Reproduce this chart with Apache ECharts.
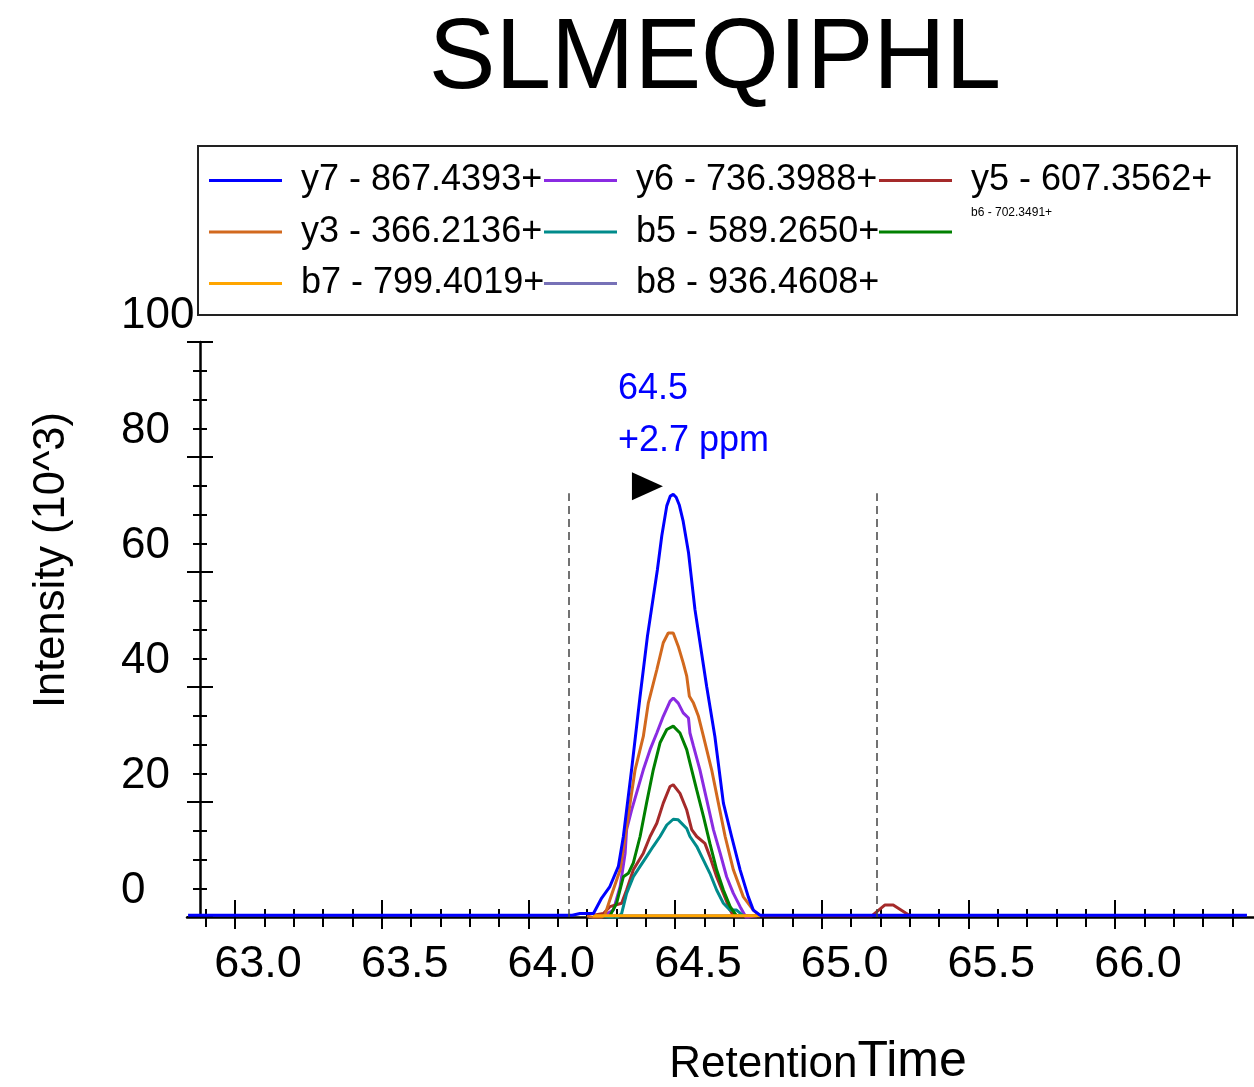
<!DOCTYPE html>
<html><head><meta charset="utf-8">
<script src="https://cdn.jsdelivr.net/npm/echarts@6/dist/echarts.min.js"></script>
<style>html,body{margin:0;padding:0;background:#fff}#c{width:1254px;height:1087px}</style>
</head><body><div id="c"></div>
<script>
// ---- data (retention time in minutes, intensity in 10^3) ----
const chartTitle = 'SLMEQIPHL';
const seriesNames = ['y7 - 867.4393+', 'y6 - 736.3988+', 'y5 - 607.3562+', 'y3 - 366.2136+',
                     'b5 - 589.2650+', 'b6 - 702.3491+', 'b7 - 799.4019+', 'b8 - 936.4608+'];
const seriesColors = ['#0000ff', '#8a2be2', '#a52a2a', '#d2691e', '#008b8b', '#008000', '#ffa500', '#7771b7'];

const y7 = [[62.84,0.3],[64.15,0.3],[64.176,0.6],[64.222,0.6],[64.250,3.3],[64.278,5.3],[64.307,8.8],[64.324,14.0],
  [64.352,25.6],[64.381,38.4],[64.406,48.8],[64.440,60.4],[64.455,66.3],[64.472,71.5],[64.484,73.2],[64.494,73.5],
  [64.504,73.0],[64.515,71.6],[64.528,68.8],[64.546,63.4],[64.568,53.5],[64.608,40.1],[64.636,31.4],[64.665,19.8],
  [64.693,14.0],[64.722,8.2],[64.750,3.5],[64.767,1.2],[64.790,0.3],[66.45,0.3]];
const y6 = [[64.256,0.2],[64.290,1.2],[64.313,5.3],[64.330,11.1],[64.335,15.2],[64.352,18.6],[64.392,25.6],[64.415,29.1],
  [64.438,32.0],[64.460,34.9],[64.483,37.5],[64.494,38.1],[64.511,37.2],[64.528,35.5],[64.546,34.6],[64.551,32.0],
  [64.563,29.7],[64.585,25.6],[64.608,20.4],[64.631,15.2],[64.654,11.1],[64.676,7.0],[64.699,4.1],[64.722,1.8],
  [64.744,-0.2],[64.761,0.1],[64.78,0.2]];
const y5 = [[64.222,0.3],[64.256,0.6],[64.278,1.8],[64.318,2.4],[64.335,4.7],[64.358,8.2],[64.392,11.1],[64.415,14.0],
  [64.438,16.3],[64.460,19.8],[64.483,22.7],[64.494,23.0],[64.517,21.5],[64.540,18.6],[64.557,15.2],[64.574,14.0],
  [64.602,12.8],[64.619,10.5],[64.642,7.0],[64.665,4.1],[64.688,1.2],[64.699,0.2],
  [65.171,0.2],[65.216,2.1],[65.244,2.1],[65.301,0.2]];
const y3 = [[64.20,0.2],[64.239,-0.3],[64.26,0.2],[64.278,3.0],[64.313,8.2],[64.347,19.8],[64.364,25.6],[64.392,31.4],
  [64.409,37.2],[64.438,43.0],[64.460,47.7],[64.477,49.4],[64.494,49.4],[64.511,47.1],[64.528,44.2],[64.540,41.9],
  [64.549,38.4],[64.563,37.2],[64.580,34.9],[64.597,31.4],[64.625,25.6],[64.648,19.8],[64.671,14.0],[64.699,8.2],
  [64.733,3.5],[64.767,1.2],[64.790,0.2]];
const b5 = [[64.256,0.2],[64.296,-0.4],[64.318,0.6],[64.335,4.1],[64.358,7.0],[64.381,8.8],[64.403,10.5],[64.426,12.3],
  [64.449,14.0],[64.472,16.0],[64.494,17.0],[64.511,16.9],[64.540,15.4],[64.551,14.0],[64.574,12.3],[64.597,9.9],
  [64.619,7.6],[64.642,4.7],[64.665,2.4],[64.688,1.2],[64.710,1.2],[64.733,0.2]];
const b6 = [[64.278,0.2],[64.301,2.4],[64.324,7.0],[64.341,7.6],[64.358,9.4],[64.381,14.0],[64.403,19.8],[64.426,25.6],
  [64.449,30.3],[64.472,32.6],[64.494,33.2],[64.517,32.0],[64.540,29.1],[64.551,26.8],[64.574,22.1],[64.597,17.5],
  [64.619,12.8],[64.642,8.2],[64.665,4.7],[64.688,1.8],[64.710,0.2]];
const b7 = [[64.22,0.2],[64.79,0.2]];
const b8 = [[64.25,0.2],[64.75,0.2]];
const seriesData = [y7, y6, y5, y3, b5, b6, b7, b8];

const xMin = 62.8363, xMax = 66.474;
const xMajorTicks = [63.0, 63.5, 64.0, 64.5, 65.0, 65.5, 66.0];
const xMinorTicks = [62.9, 63.1, 63.2, 63.3, 63.4, 63.6, 63.7, 63.8, 63.9, 64.1, 64.2, 64.3, 64.4,
                     64.6, 64.7, 64.8, 64.9, 65.1, 65.2, 65.3, 65.4, 65.6, 65.7, 65.8, 65.9, 66.1, 66.2, 66.3, 66.4];
const yMajorTicks = [0, 20, 40, 60, 80, 100];
const yMinorTicks = [5, 10, 15, 25, 30, 35, 45, 50, 55, 65, 70, 75, 85, 90, 95];

const peakBoundaries = [64.139, 65.189];
const boundaryTop = 73.7;
const apexMarker = [64.406, 74.9];
const apexLabel = ['64.5', '+2.7 ppm'];
const xTitleParts = ['Retention', 'Time'];
const yTitle = 'Intensity (10^3)';
// legend columns (series indices per column); the b6 entry is drawn with tiny text
const legendColumns = [[0, 3, 6], [1, 4, 7], [2, 5]];
const tinyLegendEntry = 5;

// ---- chart ----
const FONT = '"Liberation Sans", Arial, Helvetica, sans-serif';
function xAx(values, len, inside, main) {
  return {
    type: 'value', min: xMin, max: xMax, position: 'bottom',
    axisLine: { show: main, onZero: false, lineStyle: { color: '#000', width: 2.5 } },
    axisTick: { show: true, customValues: values, inside: inside, length: len, lineStyle: { color: '#000', width: 2 } },
    axisLabel: main ? { show: true, customValues: xMajorTicks, formatter: v => v.toFixed(1), fontSize: 45,
      fontFamily: FONT, color: '#000', margin: 48, verticalAlign: 'middle', align: 'center', padding: [0, 0, 0, 46] } : { show: false },
    splitLine: { show: false }
  };
}
function yAx(values, len, inside, main) {
  return {
    type: 'value', min: 0, max: 100, position: 'left', offset: -13,
    axisLine: { show: main, onZero: false, lineStyle: { color: '#000', width: 2.5 } },
    axisTick: { show: true, customValues: values, inside: inside, length: len, lineStyle: { color: '#000', width: 2 } },
    axisLabel: main ? { show: true, customValues: yMajorTicks, fontSize: 44, fontFamily: FONT, color: '#000',
      margin: 79, align: 'left', verticalAlign: 'bottom', lineHeight: 52 } : { show: false },
    splitLine: { show: false }
  };
}

const series = seriesNames.map((name, i) => ({
  name: name, type: 'line', symbol: 'none', data: seriesData[i], animation: false,
  lineStyle: { width: 3, color: seriesColors[i] }, itemStyle: { color: seriesColors[i] },
  z: i === 0 ? 4 : (i === 7 ? 2 : 3)
}));
series[0].markLine = {
  silent: true, symbol: 'none', animation: false, label: { show: false },
  lineStyle: { type: [8, 5], color: '#444', width: 1.5 },
  data: peakBoundaries.map(t => [{ coord: [t, 0] }, { coord: [t, boundaryTop] }])
};
series[0].markPoint = {
  silent: true, animation: false, symbol: 'path://M0,0L10,5L0,10Z', symbolSize: [31, 28],
  itemStyle: { color: '#000' }, label: { show: false },
  data: [{ coord: apexMarker }]
};

const legendText = {
  fontSize: 36, fontFamily: FONT, color: '#000', padding: [0, 0, 0, 14],
  rich: {
    t: { fontSize: 36, fontFamily: FONT, color: '#000', lineHeight: 28, verticalAlign: 'top' },
    g: { fontSize: 10, fontFamily: FONT, lineHeight: 36 },
    s: { fontSize: 12, fontFamily: FONT, color: '#000', lineHeight: 12, verticalAlign: 'top' },
    h: { fontSize: 10, fontFamily: FONT, lineHeight: 50 }
  }
};
const legendLefts = [209, 544, 879];
const legends = legendColumns.map((col, c) => ({
  orient: 'vertical', left: legendLefts[c], top: 162.5, padding: 0,
  itemWidth: 73, itemHeight: 3, itemGap: c === 2 ? 8.5 : 15.5, icon: 'rect', selectedMode: false,
  textStyle: legendText,
  formatter: name => name === seriesNames[tinyLegendEntry] ? '{s|' + name + '}{h| }' : '{t|' + name + '}{g| }',
  data: col.map(i => seriesNames[i])
}));

const option = {
  backgroundColor: '#fff',
  animation: false,
  grid: { left: 187, top: 342, width: 1067, height: 575, containLabel: false },
  xAxis: [xAx(xMajorTicks, 12, false, true), xAx(xMajorTicks, 17, true, false),
          xAx(xMinorTicks, 10, false, false), xAx(xMinorTicks, 8, true, false)],
  yAxis: [yAx(yMajorTicks, 13, false, true), yAx(yMajorTicks, 13, true, false),
          yAx(yMinorTicks, 7, false, false), yAx(yMinorTicks, 7, true, false)],
  legend: legends,
  graphic: [
    { type: 'rect', shape: { x: 198, y: 146, width: 1039, height: 169 }, style: { fill: 'none', stroke: '#222', lineWidth: 2 }, silent: true },
    { type: 'text', x: 715, y: 60, style: { text: chartTitle, fontSize: 100, fontFamily: FONT, fill: '#000', align: 'center', verticalAlign: 'middle' } },
    { type: 'text', x: 52, y: 560, rotation: Math.PI / 2, style: { text: yTitle, fontSize: 43.5, fontFamily: FONT, fill: '#000', align: 'center', verticalAlign: 'middle' } },
    { type: 'text', x: 818, y: 1062, style: { text: '{a|' + xTitleParts[0] + '}{b|' + xTitleParts[1] + '}', align: 'center', verticalAlign: 'middle', fontFamily: FONT, fill: '#000',
        rich: { a: { fontSize: 44, fontFamily: FONT, verticalAlign: 'bottom' }, b: { fontSize: 50, fontFamily: FONT, verticalAlign: 'bottom' } } } },
    { type: 'text', x: 618, y: 389, style: { text: apexLabel[0], fontSize: 36, fontFamily: FONT, fill: '#0000ff', align: 'left', verticalAlign: 'middle' } },
    { type: 'text', x: 618, y: 441, style: { text: apexLabel[1], fontSize: 36, fontFamily: FONT, fill: '#0000ff', align: 'left', verticalAlign: 'middle' } }
  ],
  series: series
};
const chart = echarts.init(document.getElementById('c'), null, { renderer: 'canvas' });
chart.setOption(option);
</script></body></html>
